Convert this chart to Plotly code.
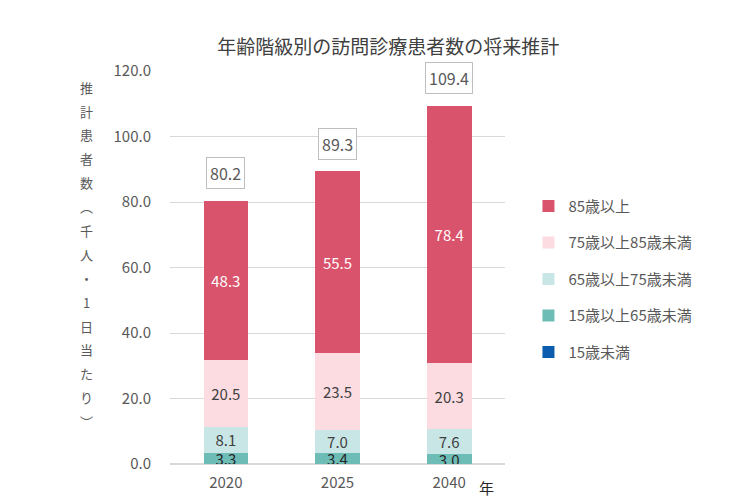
import plotly.graph_objects as go

# 年齢階級別の訪問診療患者数（千人・1日当たり）
years = ["2020", "2025", "2040"]
under15 = [0.0, 0.0, 0.0]
age15_64 = [3.3, 3.4, 3.0]
age65_74 = [8.1, 7.0, 7.6]
age75_84 = [20.5, 23.5, 20.3]
age85_over = [48.3, 55.5, 78.4]
totals = [80.2, 89.3, 109.4]

FONT = "Noto Sans CJK JP"
GRAY = "#595959"

series = [
    ("15歳未満", under15, "#0B5CAD", "#FFFFFF", False),
    ("15歳以上65歳未満", age15_64, "#6DBDB6", "#262626", True),
    ("65歳以上75歳未満", age65_74, "#C9E6E6", "#404040", True),
    ("75歳以上85歳未満", age75_84, "#FCDCE0", "#404040", True),
    ("85歳以上", age85_over, "#D9536C", "#FFFFFF", True),
]

fig = go.Figure()

for rank, (name, vals, color, tcolor, show_text) in enumerate(series):
    fig.add_bar(
        x=years,
        y=vals,
        name=name,
        legendgroup=name,
        legendrank=len(series) - rank,
        marker_color=color,
        marker_line_width=0,
        text=[f"{v:.1f}" for v in vals] if show_text else None,
        textposition="inside",
        insidetextanchor="middle",
        textangle=0,
        textfont=dict(color=tcolor, size=15, family=FONT),
        hovertemplate="%{x}: %{y:.1f}<extra>" + name + "</extra>",
    )

# 合計の枠付きラベル（カテゴリ軸なので位置はインデックスで指定）
for i, tot in enumerate(totals):
    fig.add_annotation(
        x=i, y=tot, text=f"{tot:.1f}",
        showarrow=False, yanchor="bottom", yshift=12,
        font=dict(size=16, color=GRAY, family=FONT),
        bordercolor="#BFBFBF", borderwidth=1, borderpad=3,
        bgcolor="white",
    )

# 縦書きの軸タイトル
ytitle = "推計患者数︵千人・1日当たり︶"
for i, ch in enumerate(ytitle):
    fig.add_annotation(
        xref="paper", yref="paper",
        x=-0.25, y=0.959 - i * 0.0608,
        text=ch, showarrow=False,
        xanchor="center", yanchor="middle",
        font=dict(size=13, color=GRAY, family=FONT),
    )

fig.add_annotation(
    xref="paper", yref="paper", x=0.915, y=-0.06,
    text="年", showarrow=False, xanchor="left", yanchor="middle",
    font=dict(size=15, color="#262626", family=FONT),
)

fig.update_layout(
    width=750, height=500,
    barmode="stack",
    bargap=0.6,
    plot_bgcolor="white",
    paper_bgcolor="white",
    margin=dict(l=162, r=253, t=63, b=44),
    font=dict(family=FONT, color=GRAY),
    title=dict(
        text="年齢階級別の訪問診療患者数の将来推計",
        x=0.507, xref="container", xanchor="center",
        y=0.935, yref="container",
        font=dict(size=19, color="#404040", family=FONT),
    ),
    uniformtext=dict(minsize=15, mode="show"),
    legend=dict(
        x=1.07, y=0.698, xanchor="left", yanchor="top",
        traceorder="grouped",
        tracegroupgap=14,
        font=dict(size=15, color=GRAY, family=FONT),
        itemwidth=30,
    ),
    showlegend=True,
)

fig.update_xaxes(
    type="category", range=[-0.5, 2.5],
    showline=False, ticks="", ticklabelstandoff=8,
    tickfont=dict(size=15, color=GRAY, family=FONT),
)
fig.update_yaxes(
    range=[0, 120], dtick=20, tickformat=".1f",
    showgrid=True, gridcolor="#D9D9D9", gridwidth=1,
    zeroline=True, zerolinecolor="#D9D9D9",
    ticks="", ticklabelstandoff=18,
    tickfont=dict(size=15, color=GRAY, family=FONT),
)

fig.write_html("out.html")
